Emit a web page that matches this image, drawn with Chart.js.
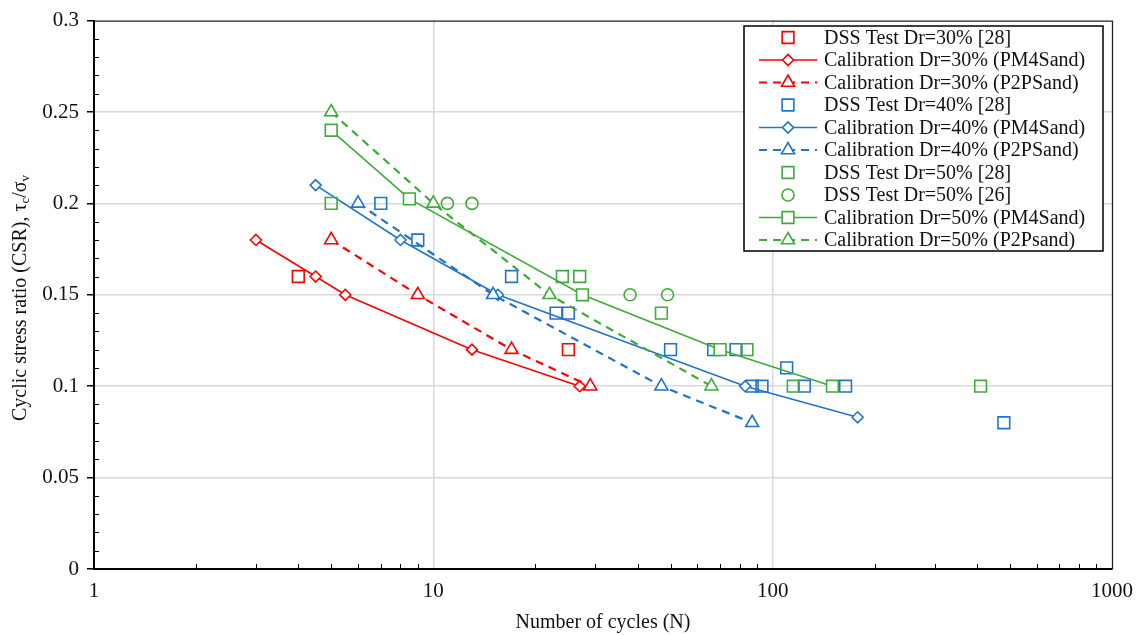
<!DOCTYPE html>
<html lang="en">
<head>
<meta charset="UTF-8">
<title>Cyclic stress ratio vs number of cycles</title>
<script src="https://cdn.jsdelivr.net/npm/chart.js"></script>
<style>
  body { margin: 0; background: #fff; }
  #wrap { width: 1137px; height: 635px; }
</style>
</head>
<body>
<div id="wrap"><canvas id="csr-chart"></canvas></div>
<script>
// values: number of cycles N and CSR
const dss30N = [4, 25];
const dss30Csr = [0.16, 0.12];
const pm30N = [3, 4.5, 5.5, 13, 27];
const pm30Csr = [0.18, 0.16, 0.15, 0.12, 0.1];
const p2p30N = [5, 9, 17, 29];
const p2p30Csr = [0.18, 0.15, 0.12, 0.1];

const dss40N = [7, 9, 17, 23, 25, 50, 67, 78, 87, 93, 110, 124, 164, 480];
const dss40Csr = [0.2, 0.18, 0.16, 0.14, 0.14, 0.12, 0.12, 0.12, 0.1, 0.1, 0.11, 0.1, 0.1, 0.08];
const pm40N = [4.5, 8, 15.5, 83, 178];
const pm40Csr = [0.21, 0.18, 0.15, 0.1, 0.083];
const p2p40N = [6, 15, 47, 87];
const p2p40Csr = [0.2, 0.15, 0.1, 0.08];

const dss50N = [5, 24, 27, 47, 84, 115, 410];
const dss50Csr = [0.2, 0.16, 0.16, 0.14, 0.12, 0.1, 0.1];
const dss50bN = [11, 13, 38, 49];
const dss50bCsr = [0.2, 0.2, 0.15, 0.15];
const pm50N = [5, 8.5, 27.5, 70, 150];
const pm50Csr = [0.24, 0.2025, 0.15, 0.12, 0.1];
const p2p50N = [5, 10, 22, 66];
const p2p50Csr = [0.25, 0.2, 0.15, 0.1];

const seriesLabels = [
    'DSS Test Dr=30% [28]',
    'Calibration Dr=30% (PM4Sand)',
    'Calibration Dr=30% (P2PSand)',
    'DSS Test Dr=40% [28]',
    'Calibration Dr=40% (PM4Sand)',
    'Calibration Dr=40% (P2PSand)',
    'DSS Test Dr=50% [28]',
    'DSS Test Dr=50% [26]',
    'Calibration Dr=50% (PM4Sand)',
    'Calibration Dr=50% (P2Psand)'
];
const xMajorTicks = [1, 10, 100, 1000];
const yMajorTicks = [0, 0.05, 0.1, 0.15, 0.2, 0.25, 0.3];

const RED = '#ff0000';
const BLUE = '#1f74cc';
const GREEN = '#3fab3b';
const FONT = '"Liberation Serif", "Times New Roman", serif';

function pts(xs, ys) {
    return xs.map((x, i) => ({ x: x, y: ys[i] }));
}

function dss(label, xs, ys, color, style) {
    return {
        label: label, data: pts(xs, ys), showLine: false,
        pointStyle: style, pointRadius: style === 'circle' ? 6 : 8.3,
        borderColor: color, backgroundColor: 'rgba(0,0,0,0)',
        pointBorderWidth: 1.6
    };
}

function calib(label, xs, ys, color, style, dashed) {
    let r = style === 'rectRot' ? 5.5 : (style === 'triangle' ? 7.5 : 8.3);
    return {
        label: label, data: pts(xs, ys), showLine: true,
        borderColor: color, backgroundColor: '#ffffff',
        borderWidth: dashed ? 2.2 : 1.6, borderDash: dashed ? [8, 6] : [],
        pointStyle: style, pointRadius: r, pointBorderWidth: 1.6,
        pointBackgroundColor: '#ffffff', pointBorderColor: color
    };
}

const datasets = [
    dss(seriesLabels[0], dss30N, dss30Csr, RED, 'rect'),
    calib(seriesLabels[1], pm30N, pm30Csr, RED, 'rectRot', false),
    calib(seriesLabels[2], p2p30N, p2p30Csr, RED, 'triangle', true),
    dss(seriesLabels[3], dss40N, dss40Csr, BLUE, 'rect'),
    calib(seriesLabels[4], pm40N, pm40Csr, BLUE, 'rectRot', false),
    calib(seriesLabels[5], p2p40N, p2p40Csr, BLUE, 'triangle', true),
    dss(seriesLabels[6], dss50N, dss50Csr, GREEN, 'rect'),
    dss(seriesLabels[7], dss50bN, dss50bCsr, GREEN, 'circle'),
    calib(seriesLabels[8], pm50N, pm50Csr, GREEN, 'rect', false),
    calib(seriesLabels[9], p2p50N, p2p50Csr, GREEN, 'triangle', true)
];
// later series on top, like the original
datasets.forEach((d, i) => { d.order = -i; });

function isMajorY(v) {
    return yMajorTicks.some(t => Math.abs(t - v) < 1e-9);
}

function drawMarker(ctx, ds, x, y) {
    ctx.save();
    ctx.setLineDash([]);
    ctx.lineWidth = ds.pointBorderWidth;
    ctx.strokeStyle = ds.borderColor;
    ctx.fillStyle = ds.showLine ? '#ffffff' : 'rgba(0,0,0,0)';
    Chart.helpers.drawPoint(ctx, {
        pointStyle: ds.pointStyle, radius: ds.pointRadius,
        rotation: 0, borderWidth: ds.pointBorderWidth
    }, x, y);
    ctx.restore();
}

const decorations = {
    id: 'decorations',
    beforeDatasetsDraw(chart) {
        const ctx = chart.ctx;
        const a = chart.chartArea;
        const xs = chart.scales.x, ys = chart.scales.y;
        ctx.save();
        // minor ticks, inside the plot
        ctx.strokeStyle = '#000';
        ctx.lineWidth = 1;
        for (let k = 1; k < 30; k++) {
            if (k % 5 === 0) continue;
            const py = Math.round(ys.getPixelForValue(k / 100)) + 0.5;
            ctx.beginPath();
            ctx.moveTo(a.left, py);
            ctx.lineTo(a.left + 5, py);
            ctx.stroke();
        }
        for (let dec = 1; dec < 1000; dec *= 10) {
            for (let m = 2; m < 10; m++) {
                const px = Math.round(xs.getPixelForValue(dec * m)) + 0.5;
                ctx.beginPath();
                ctx.moveTo(px, a.bottom);
                ctx.lineTo(px, a.bottom - 5);
                ctx.stroke();
            }
        }
        // top and right frame
        ctx.lineWidth = 1.3;
        ctx.strokeStyle = '#222';
        ctx.beginPath();
        ctx.moveTo(a.left, a.top + 0.5);
        ctx.lineTo(a.right + 0.5, a.top + 0.5);
        ctx.lineTo(a.right + 0.5, a.bottom);
        ctx.stroke();
        ctx.restore();
    },
    afterDraw(chart) {
        const ctx = chart.ctx;
        const a = chart.chartArea;
        ctx.save();
        ctx.fillStyle = '#111';
        // x axis title
        ctx.font = '20px ' + FONT;
        ctx.textAlign = 'center';
        ctx.textBaseline = 'middle';
        ctx.fillText('Number of cycles (N)', (a.left + a.right) / 2, 623);

        // y axis title with subscripts
        ctx.translate(21, 298);
        ctx.rotate(-Math.PI / 2);
        const parts = [
            ['Cyclic stress ratio (CSR), \u03c4', 20, 0],
            ['c', 13, 5],
            ['/\u03c3', 20, 0],
            ['v', 13, 5]
        ];
        let total = 0;
        parts.forEach(p => { ctx.font = p[1] + 'px ' + FONT; total += ctx.measureText(p[0]).width; });
        let cx = -total / 2;
        ctx.textAlign = 'left';
        parts.forEach(p => {
            ctx.font = p[1] + 'px ' + FONT;
            ctx.fillText(p[0], cx, p[2]);
            cx += ctx.measureText(p[0]).width;
        });
        ctx.restore();

        // legend box
        ctx.save();
        const bx = 744, by = 26, bw = 359, bh = 225;
        ctx.fillStyle = '#fff';
        ctx.fillRect(bx, by, bw, bh);
        ctx.strokeStyle = '#000';
        ctx.lineWidth = 1.5;
        ctx.strokeRect(bx, by, bw, bh);
        ctx.font = '20px ' + FONT;
        ctx.textBaseline = 'middle';
        ctx.textAlign = 'left';
        chart.data.datasets.forEach((ds, i) => {
            const y = 37.5 + i * 22.5;
            if (ds.showLine) {
                ctx.save();
                ctx.strokeStyle = ds.borderColor;
                ctx.lineWidth = ds.borderWidth;
                ctx.setLineDash(ds.borderDash);
                ctx.beginPath();
                ctx.moveTo(759, y);
                ctx.lineTo(817, y);
                ctx.stroke();
                ctx.restore();
            }
            drawMarker(ctx, ds, 788, y);
            ctx.fillStyle = '#111';
            ctx.fillText(ds.label, 824, y + 1);
        });
        ctx.restore();
    }
};

new Chart(document.getElementById('csr-chart'), {
    type: 'scatter',
    data: { datasets: datasets },
    options: {
        responsive: true,
        maintainAspectRatio: false,
        animation: false,
        layout: { padding: { left: 0, top: 19, right: 25, bottom: 0 } },
        plugins: { legend: { display: false }, tooltip: { enabled: false } },
        scales: {
            x: {
                type: 'logarithmic',
                min: 1, max: 1000,
                afterFit(scale) { scale.height = 66; },
                border: { color: '#000', width: 2 },
                grid: {
                    color: ctx => (xMajorTicks.includes(ctx.tick.value) && ctx.tick.value !== 1 && ctx.tick.value !== 1000) ? '#d9d9d9' : 'rgba(0,0,0,0)',
                    lineWidth: 1.5,
                    drawTicks: true,
                    tickLength: 6,
                    tickColor: 'rgba(0,0,0,0)'
                },
                ticks: {
                    autoSkip: false, maxRotation: 0, padding: 4,
                    color: '#111',
                    font: { family: FONT, size: 21 },
                    callback: v => xMajorTicks.includes(v) ? String(v) : ''
                }
            },
            y: {
                min: 0, max: 0.3,
                afterFit(scale) { scale.width = 94; },
                border: { color: '#000', width: 2 },
                grid: {
                    color: ctx => (ctx.tick.value > 0.001 && ctx.tick.value < 0.299) ? '#d9d9d9' : 'rgba(0,0,0,0)',
                    lineWidth: 1.5,
                    tickLength: 7,
                    tickColor: '#000'
                },
                ticks: {
                    stepSize: 0.05, padding: 8,
                    color: '#111',
                    font: { family: FONT, size: 21 },
                    callback: v => isMajorY(v) ? String(Math.round(v * 100) / 100) : ''
                }
            }
        }
    },
    plugins: [decorations]
});
</script>
</body>
</html>
